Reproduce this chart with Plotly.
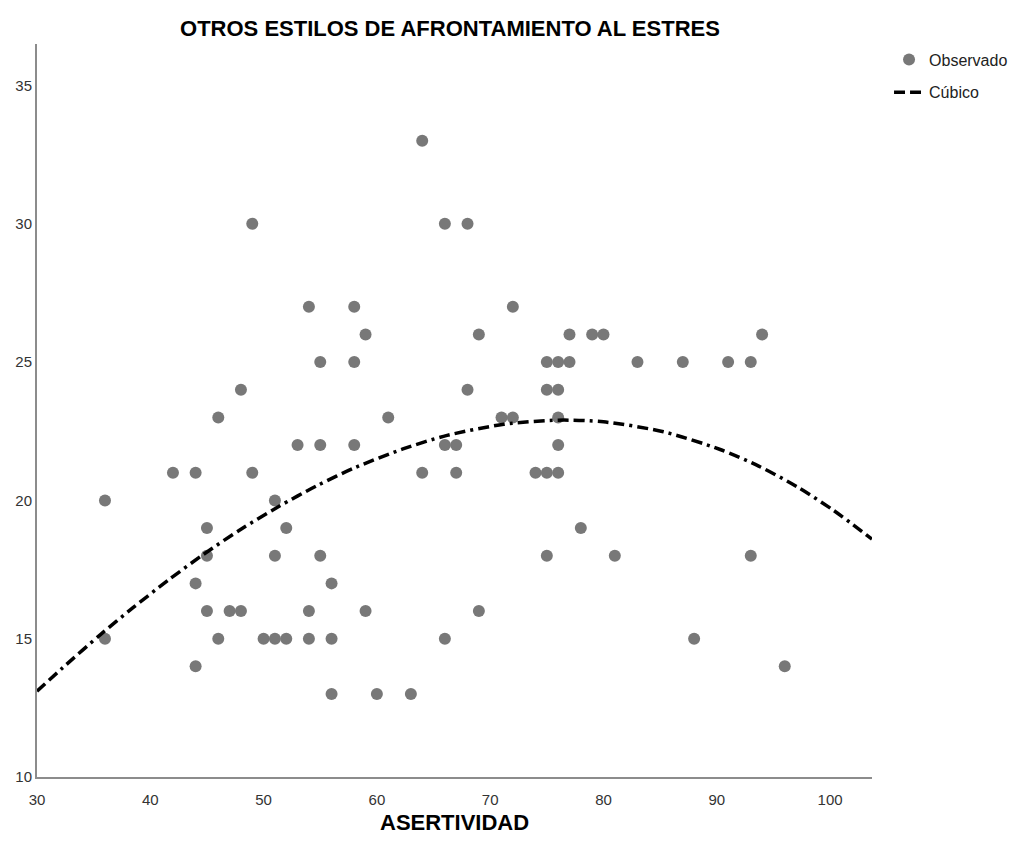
import plotly.graph_objects as go

# Observed cases: ASERTIVIDAD (x) vs. otros estilos de afrontamiento (y)
asertividad = [36, 36, 42, 44, 44, 44, 45, 45, 45, 46, 46, 47, 48, 48, 49, 49, 50,
               51, 51, 51, 52, 52, 53, 54, 54, 54, 55, 55, 55, 56, 56, 56, 58, 58,
               58, 59, 59, 60, 61, 63, 64, 64, 66, 66, 66, 67, 67, 68, 68, 69, 69,
               71, 72, 72, 74, 75, 75, 75, 75, 76, 76, 76, 76, 76, 77, 77, 78, 79,
               80, 81, 83, 87, 88, 91, 93, 93, 94, 96]
otros_estilos = [20, 15, 21, 21, 17, 14, 19, 18, 16, 23, 15, 16, 24, 16, 30, 21, 15,
                 20, 18, 15, 19, 15, 22, 27, 16, 15, 25, 22, 18, 17, 15, 13, 27, 25,
                 22, 26, 16, 13, 23, 13, 33, 21, 30, 22, 15, 22, 21, 30, 24, 26, 16,
                 23, 27, 23, 21, 25, 24, 21, 18, 25, 24, 23, 22, 21, 26, 25, 19, 26,
                 26, 18, 25, 25, 15, 25, 25, 18, 26, 14]

# Cubic model curve, sampled along the x range
cubico_x = [30, 32.3, 35.6, 38.5, 41.6, 44.7, 47.9, 51.3, 54.7, 58.1, 62.3,
            66.2, 71.2, 76.0, 80.0, 85.3, 90.3, 93.7, 97.1, 100.3, 103.7]
cubico_y = [13.1, 13.96, 15.15, 16.13, 17.12, 18.05, 18.93, 19.77, 20.53, 21.19,
            21.86, 22.35, 22.75, 22.9, 22.84, 22.48, 21.84, 21.24, 20.49, 19.64, 18.6]

x_ticks = [30, 40, 50, 60, 70, 80, 90, 100]
y_ticks = [10, 15, 20, 25, 30, 35]
x_range = [30, 103.7]
y_range = [10, 36.5]

FONT = "Liberation Sans Narrow, Liberation Sans, Arial, sans-serif"

fig = go.Figure()
fig.add_trace(go.Scatter(
    x=asertividad, y=otros_estilos, mode="markers", name="Observado",
    legendgroup="obs",
    marker=dict(color="rgb(120,120,120)", size=12, line=dict(width=0)),
))
fig.add_trace(go.Scatter(
    x=cubico_x, y=cubico_y, mode="lines", name="Cúbico", legendgroup="fit",
    line=dict(color="black", width=3.5, shape="spline", smoothing=0.8,
              dash="11px,5px,11px,5px,3px,5px"),
))

fig.update_layout(
    width=1017, height=867,
    margin=dict(l=37, r=145, t=44, b=90, autoexpand=False),
    paper_bgcolor="white", plot_bgcolor="white",
    font=dict(family=FONT, size=15, color="#222"),
    title=dict(text="OTROS ESTILOS DE AFRONTAMIENTO AL ESTRES",
               x=0.4946, xanchor="center", xref="paper",
               y=1 - 28 / 867, yref="container", yanchor="middle",
               font=dict(family=FONT, size=22, color="black", weight="bold")),
    legend=dict(x=1.0204, xanchor="left", y=1.002, yanchor="top",
                font=dict(family=FONT, size=16, color="#222"),
                tracegroupgap=9, bgcolor="rgba(0,0,0,0)"),
    xaxis=dict(range=x_range, tickvals=x_ticks, showgrid=False, zeroline=False,
               showline=True, linecolor="#8c8c8c", linewidth=2, ticks="",
               ticklabelstandoff=8, tickfont=dict(size=15, color="#333")),
    yaxis=dict(range=y_range, tickvals=y_ticks, showgrid=False, zeroline=False,
               showline=True, linecolor="#8c8c8c", linewidth=2, ticks="",
               ticklabelstandoff=0, tickfont=dict(size=15, color="#333")),
    annotations=[dict(text="<b>ASERTIVIDAD</b>", x=0.5, xref="paper",
                      y=-45 / 733, yref="paper", yanchor="middle",
                      showarrow=False,
                      font=dict(family=FONT, size=22, color="black"))],
)

fig.write_html("out.html")
